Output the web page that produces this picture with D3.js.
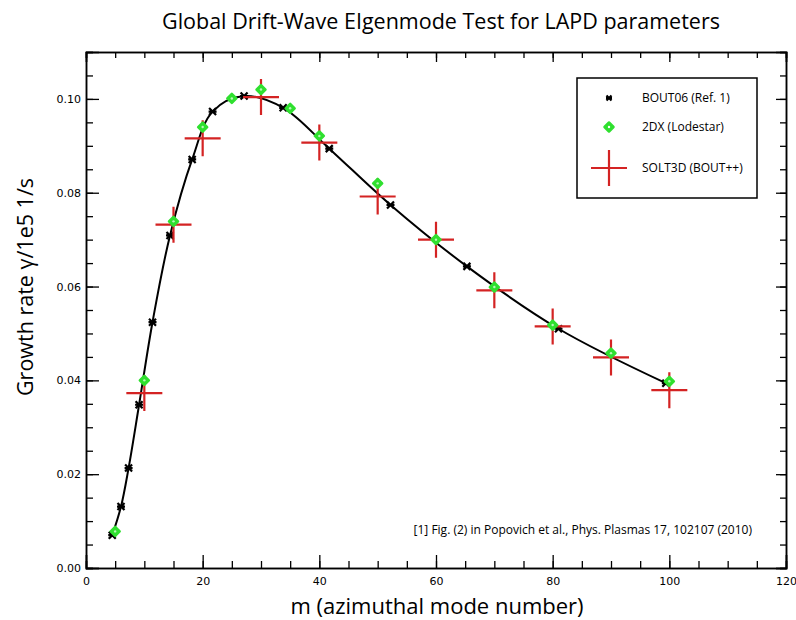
<!DOCTYPE html>
<html>
<head>
<meta charset="utf-8">
<script src="https://cdn.jsdelivr.net/npm/d3@7"></script>
<style>
  body { margin: 0; background: #fff; }
  svg { font-family: "Open Sans", sans-serif; }
</style>
</head>
<body>
<svg id="chart" width="796" height="620"></svg>
<script>
// BOUT06 (Ref. 1) points, also used for the black curve
const boutM     = [4.5, 6.0, 7.3, 9.1, 11.4, 14.4, 18.2, 21.7, 27.1, 33.8, 41.7, 52.2, 65.3, 81.0, 99.4];
const boutGamma = [0.0070, 0.0131, 0.0213, 0.0348, 0.0524, 0.0709, 0.0871, 0.0973, 0.1006, 0.0981, 0.0894, 0.0774, 0.0643, 0.0510, 0.0394];

// 2DX (Lodestar)
const dxM     = [5, 10, 15, 20, 25, 30, 35, 40, 50, 60, 70, 80, 90, 100];
const dxGamma = [0.0078, 0.0400, 0.0739, 0.0940, 0.1001, 0.1020, 0.0980, 0.0921, 0.0820, 0.0700, 0.0599, 0.0518, 0.0458, 0.0398];

// SOLT3D (BOUT++)
const soltM     = [10, 15, 20, 30, 40, 50, 60, 70, 80, 90, 100];
const soltGamma = [0.0373, 0.0732, 0.0916, 0.1004, 0.0907, 0.0792, 0.0700, 0.0592, 0.0515, 0.0449, 0.0379];

const xMajor = [0, 20, 40, 60, 80, 100, 120];
const yMajor = [0.00, 0.02, 0.04, 0.06, 0.08, 0.10];
const legendNames = ["BOUT06 (Ref. 1)", "2DX (Lodestar)", "SOLT3D (BOUT++)"];

const svg = d3.select("#chart");
const plotL = 86, plotR = 786, plotT = 52, plotB = 568;

const x = d3.scaleLinear().domain([0, 120]).range([plotL, plotR]);
const y = d3.scaleLinear().domain([0, 0.11]).range([plotB, plotT]);

const red = "#d42323", green = "#2fe02f";

// title
svg.append("text")
    .attr("x", 441).attr("y", 29)
    .attr("text-anchor", "middle")
    .attr("font-size", 21.5)
    .text("Global Drift-Wave EIgenmode Test for LAPD parameters");

// axes: bottom/left with labels, top/right mirrored ticks without labels
const xMinor = d3.range(0, 121, 5);
const yMinor = d3.range(0, 0.1101, 0.005);

const gx = svg.append("g").attr("transform", `translate(0,${plotB})`)
    .call(d3.axisBottom(x).tickValues(xMajor).tickSize(-13).tickPadding(9).tickFormat(d3.format("d")));
gx.append("g").call(d3.axisBottom(x).tickValues(xMinor).tickSize(-7).tickFormat(""));

const gy = svg.append("g").attr("transform", `translate(${plotL},0)`)
    .call(d3.axisLeft(y).tickValues(yMajor).tickSize(-13).tickPadding(5).tickFormat(d3.format(".2f")));
gy.append("g").call(d3.axisLeft(y).tickValues(yMinor).tickSize(-7).tickFormat(""));

const gxt = svg.append("g").attr("transform", `translate(0,${plotT})`)
    .call(d3.axisTop(x).tickValues(xMajor).tickSize(-10).tickFormat(""));
gxt.append("g").call(d3.axisTop(x).tickValues(xMinor).tickSize(-6).tickFormat(""));

const gyr = svg.append("g").attr("transform", `translate(${plotR},0)`)
    .call(d3.axisRight(y).tickValues(yMajor).tickSize(-10).tickFormat(""));
gyr.append("g").call(d3.axisRight(y).tickValues(yMinor).tickSize(-6).tickFormat(""));

svg.selectAll(".domain").attr("stroke", "#000").attr("stroke-width", 1.5);
svg.selectAll(".tick line").attr("stroke", "#000").attr("stroke-width", 1.3);
svg.selectAll(".tick text").attr("font-size", 11).attr("fill", "#000")
    .attr("font-family", "'DejaVu Sans', sans-serif");

// axis titles
svg.append("text")
    .attr("x", 437).attr("y", 614)
    .attr("text-anchor", "middle")
    .attr("font-size", 22)
    .text("m (azimuthal mode number)");

svg.append("text")
    .attr("transform", "translate(33,287) rotate(-90)")
    .attr("text-anchor", "middle")
    .attr("font-size", 21.5)
    .text("Growth rate γ/1e5 1/s");

// marker helpers
function boutMarker(g) {
    g.append("path")
        .attr("d", "M-3.5,-3.5L3.5,3.5M-3.5,3.5L3.5,-3.5M-4,0L4,0")
        .attr("stroke", "#000").attr("stroke-width", 2.2);
}
function dxMarker(g) {
    g.append("path")
        .attr("d", "M0,-4.5L4.5,0L0,4.5L-4.5,0Z")
        .attr("fill", green).attr("stroke", green).attr("stroke-width", 2.5)
        .attr("stroke-linejoin", "round");
    g.append("circle").attr("r", 1.2).attr("fill", "#b8f5b8");
}
function soltMarker(g) {
    g.append("path")
        .attr("d", "M-18,0L18,0M0,-18L0,18")
        .attr("stroke", red).attr("stroke-width", 2.2);
}

// black curve
const boutData = boutM.map((m, i) => ({m: m, g: boutGamma[i]}));
const line = d3.line().x(d => x(d.m)).y(d => y(d.g)).curve(d3.curveCatmullRom.alpha(0.5));
svg.append("path")
    .datum(boutData)
    .attr("d", line)
    .attr("fill", "none")
    .attr("stroke", "#000")
    .attr("stroke-width", 2);

// points
svg.append("g").selectAll("g")
    .data(boutData)
    .join("g")
    .attr("transform", d => `translate(${x(d.m)},${y(d.g)})`)
    .each(function() { boutMarker(d3.select(this)); });

svg.append("g").selectAll("g")
    .data(soltM.map((m, i) => ({m: m, g: soltGamma[i]})))
    .join("g")
    .attr("transform", d => `translate(${x(d.m)},${y(d.g)})`)
    .each(function() { soltMarker(d3.select(this)); });

svg.append("g").selectAll("g")
    .data(dxM.map((m, i) => ({m: m, g: dxGamma[i]})))
    .join("g")
    .attr("transform", d => `translate(${x(d.m)},${y(d.g)})`)
    .each(function() { dxMarker(d3.select(this)); });

// legend
const legend = svg.append("g");
legend.append("rect")
    .attr("x", 577).attr("y", 78).attr("width", 180).attr("height", 120)
    .attr("fill", "#fff").attr("stroke", "#000").attr("stroke-width", 1.5);

const legendY = [98, 127, 168];
const markers = [boutMarker, dxMarker, soltMarker];
legendNames.forEach((name, i) => {
    const g = legend.append("g").attr("transform", `translate(609,${legendY[i]})`);
    if (i === 0) {
        g.append("path").attr("d", "M-2.5,-2.5L2.5,2.5M-2.5,2.5L2.5,-2.5M-3,0L3,0")
            .attr("stroke", "#000").attr("stroke-width", 2.2);
    } else {
        markers[i](g);
    }
    if (i === 1) g.select("circle").attr("fill", "#fff");
    legend.append("text")
        .attr("x", 642).attr("y", legendY[i] + 4)
        .attr("font-size", 12)
        .text(name);
});

// reference note
svg.append("text")
    .attr("x", 752).attr("y", 534)
    .attr("text-anchor", "end")
    .attr("font-size", 12)
    .text("[1] Fig. (2) in Popovich et al., Phys. Plasmas 17, 102107 (2010)");
</script>
</body>
</html>
